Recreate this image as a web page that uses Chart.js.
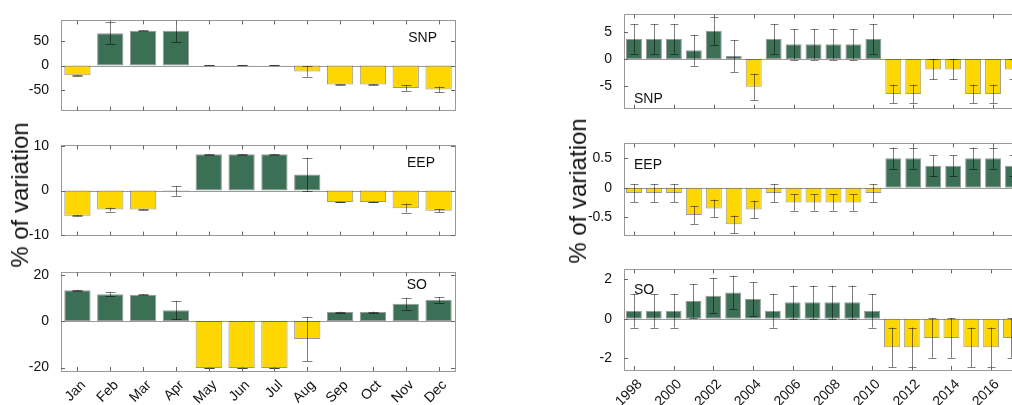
<!DOCTYPE html>
<html>
<head>
<meta charset="utf-8">
<script src="https://cdn.jsdelivr.net/npm/chart.js@4.4.1/dist/chart.umd.min.js"></script>
<style>
  html, body { margin: 0; padding: 0; background: #fff; }
  #wrap { position: relative; width: 1012px; height: 405px; overflow: hidden; }
  #wrap canvas { position: absolute; }
  .ytitle { position: absolute; font-family: "Liberation Sans", Arial, sans-serif; font-size: 24px; color: #111;
            transform: translate(-50%, -50%) rotate(-90deg); white-space: nowrap; }
</style>
</head>
<body>
<div id="wrap">
  <canvas id="l1"></canvas><canvas id="l2"></canvas><canvas id="l3"></canvas>
  <canvas id="r1"></canvas><canvas id="r2"></canvas><canvas id="r3"></canvas>
  <div class="ytitle" style="left:20px;top:195px">% of variation</div>
  <div class="ytitle" style="left:578px;top:191px">% of variation</div>
</div>
<script>
// categories
var months = ["Jan", "Feb", "Mar", "Apr", "May", "Jun", "Jul", "Aug", "Sep", "Oct", "Nov", "Dec"];
var years = ["1998", "1999", "2000", "2001", "2002", "2003", "2004", "2005", "2006", "2007",
             "2008", "2009", "2010", "2011", "2012", "2013", "2014", "2015", "2016", "2017"];

// monthly variation (left column)
var snpMonth    = [-20, 66, 71, 71, 0.6, 0.6, 0.6, -12, -39, -39, -46, -49];
var snpMonthErr = [1, 22, 0.5, 24, 0, 0, 0, 11, 1, 1, 6, 6];
var eepMonth    = [-5.7, -4.3, -4.3, -0.1, 8.2, 8.2, 8.2, 3.6, -2.6, -2.6, -4.0, -4.6];
var eepMonthErr = [0.15, 0.45, 0.1, 1.1, 0.1, 0.1, 0.1, 3.8, 0.1, 0.1, 1.0, 0.35];
var soMonth     = [13.3, 11.6, 11.4, 4.7, -20.2, -20.2, -20.2, -7.7, 3.9, 3.9, 7.5, 9.2];
var soMonthErr  = [0.2, 0.8, 0.2, 4.0, 0.2, 0.2, 0.2, 9.5, 0.2, 0.2, 2.6, 1.2];

// yearly variation (right column)
var snpYear    = [3.7, 3.7, 3.7, 1.6, 5.2, 0.55, -5.1, 3.7, 2.7, 2.7, 2.7, 2.7, 3.7, -6.4, -6.4, -1.9, -1.9, -6.4, -6.4, -1.9];
var snpYearErr = [2.7, 2.7, 2.7, 2.85, 2.6, 2.9, 2.4, 2.7, 2.8, 2.8, 2.8, 2.8, 2.7, 1.7, 1.7, 1.85, 1.85, 1.7, 1.7, 1.85];
var eepYear    = [-0.09, -0.09, -0.09, -0.46, -0.35, -0.62, -0.37, -0.09, -0.25, -0.25, -0.25, -0.25, -0.09, 0.5, 0.5, 0.37, 0.37, 0.5, 0.5, 0.37];
var eepYearErr = [0.15, 0.15, 0.15, 0.15, 0.15, 0.15, 0.15, 0.15, 0.14, 0.14, 0.14, 0.14, 0.15, 0.18, 0.18, 0.18, 0.18, 0.18, 0.18, 0.18];
var soYear     = [0.4, 0.4, 0.4, 0.9, 1.17, 1.33, 1.0, 0.4, 0.83, 0.83, 0.83, 0.83, 0.4, -1.45, -1.45, -0.98, -0.98, -1.45, -1.45, -0.98];
var soYearErr  = [0.85, 0.85, 0.85, 0.85, 0.9, 0.85, 0.85, 0.85, 0.85, 0.85, 0.85, 0.85, 0.85, 1.0, 1.0, 1.0, 1.0, 1.0, 1.0, 1.0];

// tick labels
var snpMonthTicks = [-50, 0, 50];
var eepMonthTicks = [-10, 0, 10];
var soMonthTicks  = [-20, 0, 20];
var snpYearTicks  = [-5, 0, 5];
var eepYearTicks  = [-0.5, 0, 0.5];
var soYearTicks   = [-2, 0, 2];

var GREEN = "#3b6f56";
var YELLOW = "#ffd700";
var FONT = "Liberation Sans, Arial, sans-serif";
var YW = 45;   // y axis width
var PAD = 6;

var deco = {
    id: "deco",
    beforeDatasetsDraw: function (chart) {
        var c = chart.ctx, a = chart.chartArea, y0 = chart.scales.y.getPixelForValue(0);
        c.save();
        c.strokeStyle = "#9a9a9a";
        c.lineWidth = 1;
        c.beginPath();
        c.moveTo(a.left, Math.round(y0) + 0.5);
        c.lineTo(a.right, Math.round(y0) + 0.5);
        c.stroke();
        c.restore();
    },
    afterDatasetsDraw: function (chart) {
        var o = chart.options.plugins.deco;
        var c = chart.ctx, a = chart.chartArea, xs = chart.scales.x, ys = chart.scales.y;
        var vals = chart.data.datasets[0].data;
        c.save();
        c.beginPath();
        c.rect(a.left, a.top, a.right - a.left, a.bottom - a.top);
        c.clip();
        c.strokeStyle = "rgba(0,0,0,0.5)";
        c.lineWidth = 1;
        for (var i = 0; i < vals.length; i++) {
            var x = Math.round(xs.getPixelForValue(i)) + 0.5;
            var yt = ys.getPixelForValue(vals[i] + o.err[i]);
            var yb = ys.getPixelForValue(vals[i] - o.err[i]);
            c.beginPath();
            c.moveTo(x, yt); c.lineTo(x, yb);
            c.moveTo(x - o.cap, Math.round(yt) + 0.5); c.lineTo(x + o.cap, Math.round(yt) + 0.5);
            c.moveTo(x - o.cap, Math.round(yb) + 0.5); c.lineTo(x + o.cap, Math.round(yb) + 0.5);
            c.stroke();
        }
        c.restore();
    },
    afterDraw: function (chart) {
        var o = chart.options.plugins.deco;
        var c = chart.ctx, a = chart.chartArea, xs = chart.scales.x, ys = chart.scales.y;
        c.save();
        c.strokeStyle = "#9a9a9a";
        c.lineWidth = 1;
        c.strokeRect(Math.round(a.left) + 0.5, Math.round(a.top) + 0.5,
                     Math.round(a.right - a.left), Math.round(a.bottom - a.top));
        c.strokeStyle = "#666";
        c.beginPath();
        for (var i = 0; i < chart.data.labels.length; i += o.every) {
            var x = Math.round(xs.getPixelForValue(i)) + 0.5;
            c.moveTo(x, a.top); c.lineTo(x, a.top + 4);
            c.moveTo(x, a.bottom); c.lineTo(x, a.bottom - 4);
        }
        o.yticks.forEach(function (v) {
            var y = Math.round(ys.getPixelForValue(v)) + 0.5;
            c.moveTo(a.left, y); c.lineTo(a.left + 4, y);
            c.moveTo(a.right, y); c.lineTo(a.right - 4, y);
        });
        c.stroke();
        c.fillStyle = "#111";
        c.font = "14px " + FONT;
        c.textAlign = o.label.align;
        c.textBaseline = "middle";
        var lx = o.label.align === "right" ? a.right - o.label.dx : a.left + o.label.dx;
        var ly = o.label.dy > 0 ? a.top + o.label.dy : a.bottom + o.label.dy;
        c.fillText(o.label.text, lx, ly);
        c.restore();
    }
};

function panel(id, box, labels, vals, errs, yMin, yMax, yTicks, label, bottom, every, cap) {
    var cv = document.getElementById(id);
    var xh = bottom ? 405 - box.b : PAD;
    var w = box.r - box.l + YW + PAD, h = box.b - box.t + PAD + xh;
    cv.style.left = (box.l - YW) + "px";
    cv.style.top = (box.t - PAD) + "px";
    cv.style.width = w + "px";
    cv.style.height = h + "px";
    cv.width = w; cv.height = h;
    return new Chart(cv, {
        type: "bar",
        data: {
            labels: labels,
            datasets: [{
                data: vals,
                backgroundColor: vals.map(function (v) { return v > 0 ? GREEN : YELLOW; }),
                borderColor: "rgba(70,70,70,0.55)",
                borderWidth: 1,
                borderSkipped: false,
                barPercentage: 0.8,
                categoryPercentage: 1.0
            }]
        },
        options: {
            responsive: false,
            animation: false,
            layout: { padding: { top: PAD, right: PAD, bottom: bottom ? 0 : PAD, left: 0 } },
            plugins: {
                legend: { display: false },
                tooltip: { enabled: false },
                deco: { err: errs, yticks: yTicks, label: label, every: every, cap: cap }
            },
            scales: {
                x: {
                    display: bottom,
                    grid: { display: false, drawTicks: false },
                    border: { display: false },
                    ticks: {
                        autoSkip: false,
                        minRotation: 45, maxRotation: 45,
                        padding: 6,
                        labelOffset: 6,
                        color: "#111",
                        font: { family: FONT, size: 14 },
                        callback: function (v, i) { return i % every === 0 ? labels[i] : ""; }
                    },
                    afterFit: function (s) { s.height = xh; }
                },
                y: {
                    min: yMin, max: yMax,
                    grid: { display: false },
                    border: { display: false },
                    afterBuildTicks: function (s) { s.ticks = yTicks.map(function (v) { return { value: v }; }); },
                    afterFit: function (s) { s.width = YW; },
                    ticks: {
                        padding: 4,
                        color: "#111",
                        font: { family: FONT, size: 14 },
                        callback: function (v) { return String(v); }
                    }
                }
            }
        },
        plugins: [deco]
    });
}

panel("l1", { l: 61, t: 14, r: 455, b: 117 }, months, snpMonth, snpMonthErr, -92, 92, snpMonthTicks,
      { text: "SNP", align: "right", dx: 18, dy: 18 }, false, 1, 5);
panel("l2", { l: 61, t: 139, r: 455, b: 242 }, months, eepMonth, eepMonthErr, -10.2, 10.2, eepMonthTicks,
      { text: "EEP", align: "right", dx: 20, dy: 18 }, false, 1, 5);
panel("l3", { l: 61, t: 266, r: 455, b: 371 }, months, soMonth, soMonthErr, -21.5, 21, soMonthTicks,
      { text: "SO", align: "right", dx: 28, dy: 13 }, true, 1, 5);
panel("r1", { l: 624, t: 8, r: 1023, b: 115 }, years, snpYear, snpYearErr, -9.1, 8.2, snpYearTicks,
      { text: "SNP", align: "left", dx: 10, dy: -9 }, false, 2, 4);
panel("r2", { l: 624, t: 137, r: 1023, b: 242 }, years, eepYear, eepYearErr, -0.81, 0.75, eepYearTicks,
      { text: "EEP", align: "left", dx: 10, dy: 22 }, false, 2, 4);
panel("r3", { l: 624, t: 263, r: 1023, b: 370 }, years, soYear, soYearErr, -2.6, 2.5, soYearTicks,
      { text: "SO", align: "left", dx: 10, dy: 21 }, true, 2, 4);
</script>
</body>
</html>
